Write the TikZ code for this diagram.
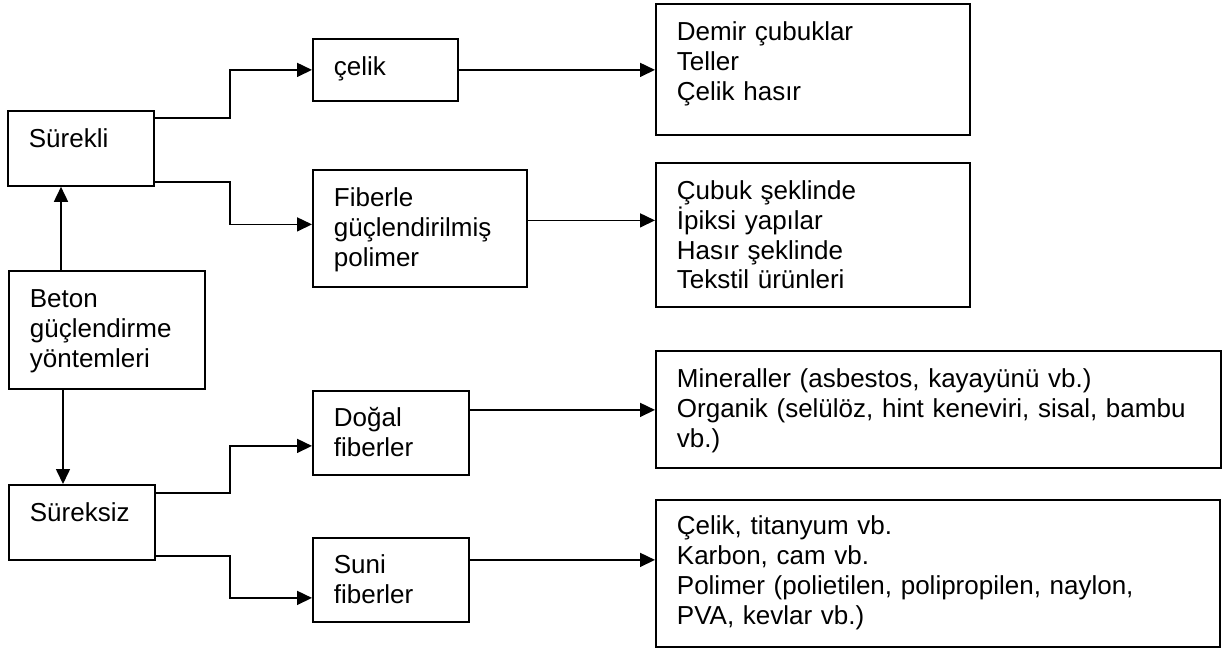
\documentclass[tikz,border=0pt]{standalone}
\usepackage{fontspec}
\setmainfont{Liberation Sans}
\usetikzlibrary{arrows.meta}
\begin{document}
\begin{tikzpicture}[x=1pt, y=-1pt,
    box/.style={draw, line width=1.8pt, anchor=north west, inner sep=0pt,
        inner xsep=21pt, align=left, text height=37pt,
        font=\fontsize{26}{29.7}\selectfont},
    arr/.style={line width=1.6pt, -{Triangle[length=15pt, width=14pt]}}]
    \useasboundingbox (0,0) rectangle (1225,652);
    % left column
    \node[box, text width=104pt, text depth=38pt] (surekli) at (7,110) {Sürekli};
    \node[box, text width=154pt, text depth=81pt] (beton) at (8,270)
        {Beton\\güçlendirme\\yöntemleri};
    \node[box, text width=104pt, text depth=38pt] (sureksiz) at (8,484) {Süreksiz};
    % middle column
    \node[box, text width=103pt, text depth=25pt] (celik) at (312,38) {çelik};
    \node[box, text width=172pt, text depth=80pt] (fiberle) at (312,169)
        {Fiberle\\güçlendirilmiş\\polimer};
    \node[box, text width=114pt, text height=36pt, text depth=48pt] (dogal) at (312,390)
        {Doğal\\fiberler};
    \node[box, text width=114pt, text height=36pt, text depth=48pt] (suni) at (312,537)
        {Suni\\fiberler};
    % right column
    \node[box, text width=272pt, text depth=94pt] (demir) at (655,3)
        {Demir çubuklar\\Teller\\Çelik hasır};
    \node[box, text width=272pt, text depth=107pt] (cubuk) at (655,162)
        {Çubuk şeklinde\\İpiksi yapılar\\Hasır şeklinde\\Tekstil ürünleri};
    \node[box, text width=523pt, text depth=80pt] (mineral) at (655,350)
        {Mineraller (asbestos, kayayünü vb.)\\Organik (selülöz, hint keneviri, sisal, bambu\\vb.)};
    \node[box, text width=522pt, text height=35pt, text depth=112pt] (sentetik) at (655,499)
        {Çelik, titanyum vb.\\Karbon, cam vb.\\Polimer (polietilen, polipropilen, naylon,\\PVA, kevlar vb.)};
    % connectors
    \draw[arr] ([xshift=53pt]beton.north west) -- ([xshift=53pt]beton.north west |- surekli.south);
    \draw[arr] ([xshift=55pt]beton.south west) -- ([xshift=55pt]beton.south west |- sureksiz.north);
    \draw[arr] ([yshift=-8pt]surekli.north east) -- ++(75pt,0) |- (celik.west);
    \draw[arr] ([yshift=5pt]surekli.south east) -- ++(75pt,0) |- ([yshift=4pt]fiberle.west);
    \draw[arr] ([yshift=-9pt]sureksiz.north east) -- ++(74pt,0) |- ([yshift=-13pt]dogal.west);
    \draw[arr] ([yshift=5pt]sureksiz.south east) -- ++(74pt,0) |- ([yshift=-18pt]suni.west);
    \draw[arr] (celik.east) -- (celik.east -| demir.west);
    \draw[arr] ([yshift=8pt]fiberle.east) -- ([yshift=8pt]fiberle.east -| cubuk.west);
    \draw[arr] ([yshift=23pt]dogal.east) -- ([yshift=23pt]dogal.east -| mineral.west);
    \draw[arr] ([yshift=20pt]suni.east) -- ([yshift=20pt]suni.east -| sentetik.west);
\end{tikzpicture}
\end{document}
